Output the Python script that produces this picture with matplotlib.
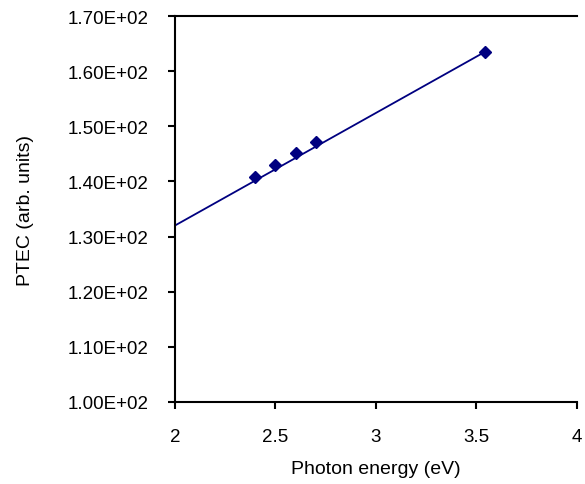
import matplotlib
matplotlib.use("Agg")
import matplotlib.pyplot as plt
from matplotlib.ticker import FuncFormatter

# Data
photon_energy = [2.40, 2.50, 2.60, 2.70, 3.54]
ptec = [140.9, 143.0, 145.1, 147.1, 163.5]
trend_x = [2.0, 3.54]
trend_y = [132.0, 163.5]
x_ticks = [2, 2.5, 3, 3.5, 4]
y_ticks = [100, 110, 120, 130, 140, 150, 160, 170]

plt.rcParams['font.family'] = ['Liberation Sans', 'DejaVu Sans']

fig = plt.figure(figsize=(5.85, 4.85), dpi=100)
ax = fig.add_axes([0.2991, 0.1697, 0.6872, 0.7946])

navy = '#000080'
ax.plot(trend_x, trend_y, color=navy, lw=1.3, zorder=2)
ax.plot(photon_energy, ptec, linestyle='none', marker='D', ms=6.5,
        color=navy, zorder=3)

ax.set_xlim(2, 4)
ax.set_ylim(100, 170)
ax.set_xticks(x_ticks)
ax.set_yticks(y_ticks)
ax.xaxis.set_major_formatter(FuncFormatter(lambda v, p: f"{v:g}"))
ax.yaxis.set_major_formatter(FuncFormatter(lambda v, p: f"{v:.2E}"))

for s in ['left', 'bottom', 'top']:
    ax.spines[s].set_linewidth(1.5)
ax.spines['right'].set_visible(False)
ax.tick_params(axis='both', direction='out', length=5, width=1.5,
               labelsize=13.5, pad=14)
ax.tick_params(top=False, right=False)

ax.set_xlabel('Photon energy (eV)', fontsize=14, labelpad=11)
ax.set_ylabel('PTEC (arb. units)', fontsize=14, labelpad=24)

fig.savefig('out.png', dpi=100)
